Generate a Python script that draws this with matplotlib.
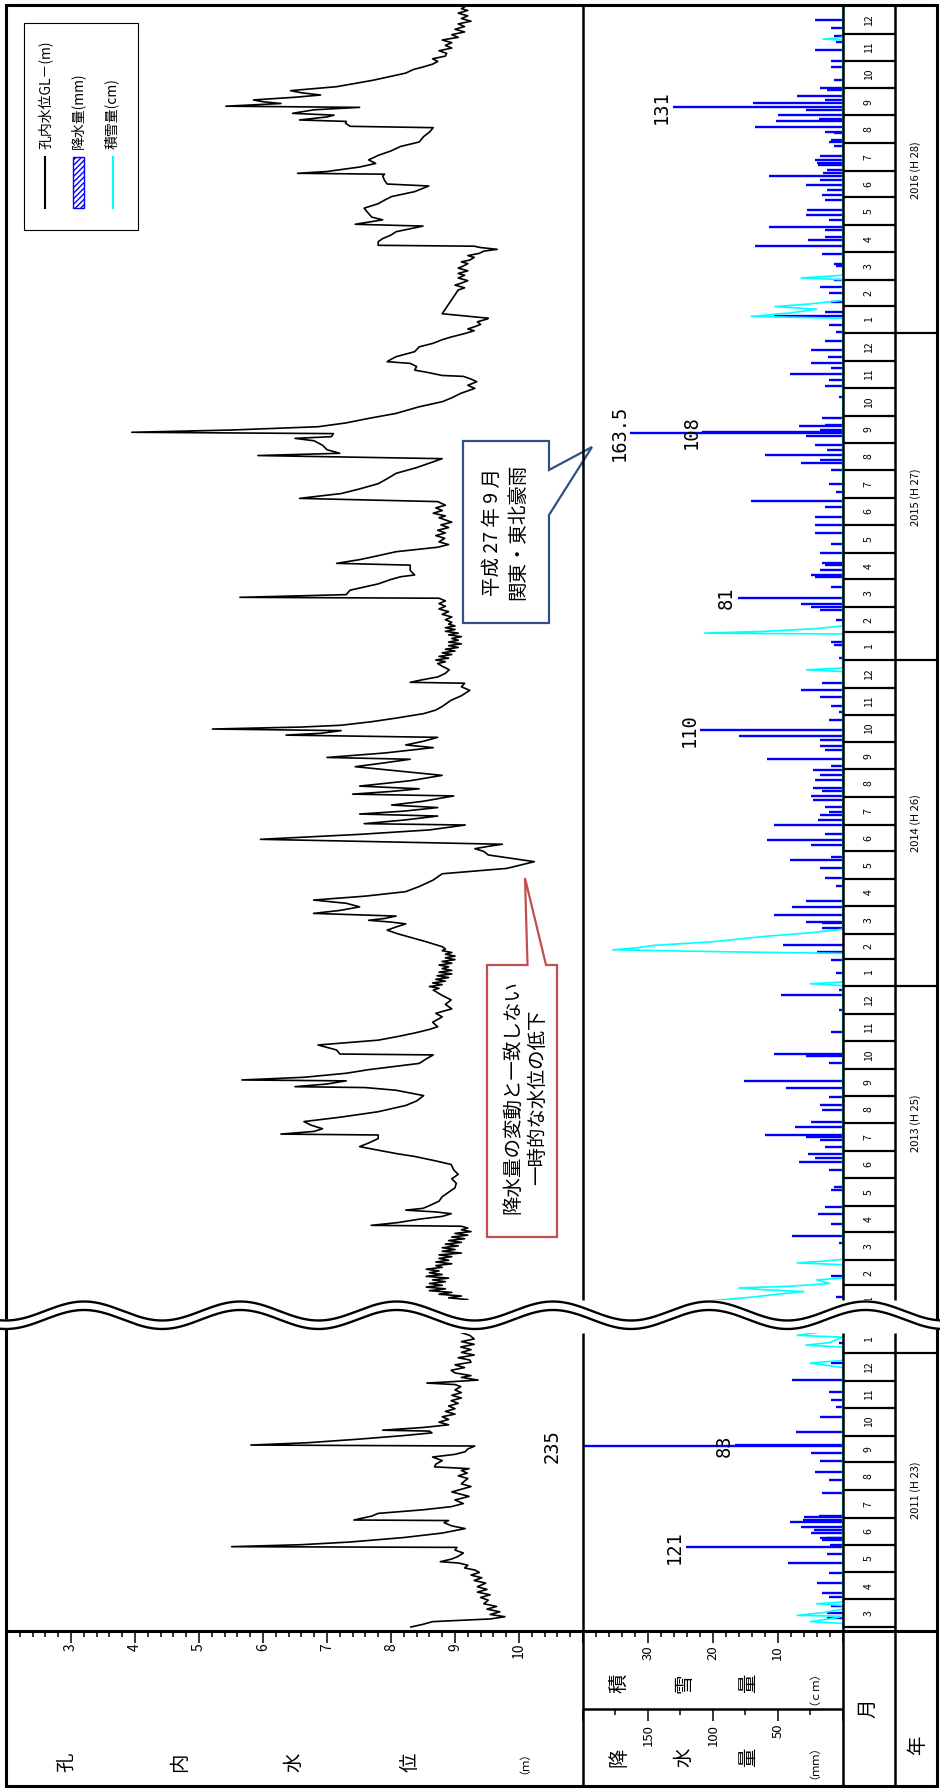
import numpy as np
import pandas as pd
import matplotlib
matplotlib.use("Agg")
import matplotlib.pyplot as plt
import matplotlib.dates as mdates
from matplotlib.patches import Polygon, Rectangle
from matplotlib.ticker import MultipleLocator

plt.rcParams['font.family'] = ['Noto Sans CJK JP', 'DejaVu Sans']
plt.rcParams['hatch.linewidth'] = 1.0

# ---- groundwater level GL-(m); days counted from the segment start ----
# 2013-01-01 .. 2016-12-31
wl_a_day = [13, 15, 17, 19, 21, 23, 25, 27, 29, 31, 33, 35, 37, 39, 41, 43, 45, 47, 49, 51, 53, 55,
            57, 59, 61, 63, 65, 67, 69, 71, 73, 75, 77, 79, 81, 83, 85, 87, 89, 91, 93, 95, 97,
            98, 101, 105, 108, 111, 113, 115, 117, 120, 125, 130, 135, 140, 145, 150, 155, 160,
            166, 170, 175, 178, 182, 186, 190, 195, 199, 200, 203, 206, 210, 214, 219, 225, 232,
            237, 243, 249, 252, 253, 256, 258.6, 259.5, 260.5, 263.5, 268, 272, 279, 284, 288.5,
            289.5, 294, 299.6, 305, 309, 313, 317, 320, 325, 331, 335, 340, 345, 350, 355, 361,
            363, 365, 367, 369, 371, 373, 375, 377, 379, 381, 383, 385, 387, 389, 391, 393, 395,
            397, 399, 401, 403, 405, 407, 409.5, 415, 420, 424, 428, 432, 435, 437, 439, 441,
            443.7, 446.7, 450, 454, 458, 461.6, 466, 471, 477, 484, 491, 497, 504.5, 508, 512,
            516, 519, 522, 524, 529.5, 535, 540, 545.5, 547, 551, 555.5, 557.8, 561, 565, 567.8,
            572, 578, 580, 583, 586, 589, 595, 601, 610.7, 615, 619, 621, 626, 632, 635, 639,
            643.5, 646, 648, 651, 652.8, 655, 657, 661, 665, 670, 674, 678, 685, 690, 696, 700,
            704, 705, 708, 711, 715, 719, 723, 726, 728, 730, 732, 734, 736, 738, 740, 742, 744,
            746, 748, 750, 752, 754, 756, 758, 760, 762, 764, 766, 768, 770, 772, 775, 778, 781,
            784, 787, 790, 793, 796, 799, 800, 803, 808, 815, 820, 823, 825, 830, 836, 838, 842,
            845, 851, 856, 859, 862, 866, 869, 872, 875, 878, 881, 884, 886, 889, 891, 894, 897,
            900, 903, 907, 910.6, 916, 921, 927, 933, 938.6, 945, 950, 955, 958.5, 961, 965, 970,
            975, 977.7, 979.6, 983, 984.5, 987, 990.7, 995, 1000, 1005.6, 1013, 1018.7, 1023,
            1028, 1033.6, 1037, 1041, 1044, 1047, 1048, 1051, 1054, 1058, 1061.5, 1063.4, 1066,
            1069, 1074.6, 1080, 1084, 1088, 1091, 1095, 1098, 1100, 1102.6, 1105, 1108, 1111,
            1112, 1117, 1143.5, 1146, 1149, 1151, 1154, 1157, 1160, 1162, 1165, 1168, 1170, 1173,
            1175, 1177, 1180, 1182, 1184.5, 1187, 1189, 1191, 1192.5, 1193.5, 1197.6, 1201, 1205,
            1208.7, 1212, 1215, 1217, 1222, 1225, 1229, 1235, 1240, 1244, 1248, 1253.5, 1259.8,
            1262, 1266, 1271, 1273, 1274, 1276, 1281, 1285, 1289, 1294, 1299, 1304, 1309, 1315,
            1320, 1325, 1326.5, 1330, 1332, 1333.6, 1337, 1339, 1341, 1345, 1347.7, 1349, 1352,
            1354, 1356, 1359, 1361.5, 1364, 1366.4, 1370.8, 1378, 1386, 1390, 1393, 1396, 1399,
            1402, 1405, 1408, 1411, 1414, 1417, 1420, 1423, 1426, 1429, 1432, 1435, 1438, 1441,
            1444, 1447, 1450, 1453, 1456, 1458, 1460]
wl_a_m = [9.05, 9.20, 8.90, 9.10, 8.75, 8.95, 8.60, 8.85, 8.55, 8.80, 8.60, 8.85, 8.65, 8.90, 8.55,
          8.80, 8.60, 8.75, 8.55, 8.80, 8.70, 8.95,
          8.70, 8.90, 8.75, 8.95, 8.75, 9.10, 8.80, 9.00, 8.80, 9.05, 8.85, 9.10, 8.90, 9.15, 8.95,
          9.20, 9.00, 9.25, 9.10, 9.20, 9.10,
          7.69, 8.10, 8.45, 8.80, 8.94, 8.70, 8.23, 8.50, 8.60, 8.75, 8.80, 8.90, 9.00, 9.02, 8.95,
          9.05, 8.98,
          8.94, 8.70, 8.37, 8.10, 7.80, 7.51, 7.65, 7.80, 7.80, 6.28, 6.80, 6.93, 6.75, 6.64, 7.22,
          7.80, 8.23,
          8.40, 8.51, 8.08, 7.60, 6.50, 7.00, 7.22, 7.30, 5.67, 6.64, 7.30, 7.65, 8.44, 8.55, 8.66,
          7.20, 7.15, 6.86, 7.80, 8.10, 8.37, 8.60, 8.73, 8.65, 8.80, 8.70, 8.95, 8.85, 8.94, 8.80,
          8.66,
          8.75, 8.60, 8.80, 8.65, 8.85, 8.70, 8.90, 8.72, 8.95, 8.75, 8.95, 8.80, 8.90, 8.75, 8.95,
          8.80, 9.00,
          8.85, 9.00, 8.85, 8.95, 8.80, 8.85, 8.80, 8.55, 8.30, 8.10, 7.94, 8.10, 8.23, 8.00, 7.65,
          7.90,
          8.08, 6.79, 7.20, 7.51, 7.30, 6.79, 7.60, 8.23, 8.45, 8.66, 8.80, 9.81, 10.24, 9.90, 9.52,
          9.45, 9.31, 9.55, 9.74, 5.96, 7.50, 8.60, 9.16, 7.58, 8.20, 8.73, 7.51, 8.20, 8.73, 8.01,
          8.50, 8.98, 7.40, 8.00, 8.44, 7.51, 8.30, 8.80, 7.44, 7.90, 8.30, 7.00, 7.90, 8.66, 8.23,
          8.50,
          8.73, 6.36, 6.90, 7.22, 5.21, 6.60, 7.22, 7.70, 8.08, 8.51, 8.70, 8.80, 8.94, 9.10, 9.23,
          9.10,
          9.15, 8.30, 8.50, 8.73, 8.85, 8.91, 8.80, 8.73, 8.85, 8.70, 8.90, 8.75, 8.95, 8.80, 9.00,
          8.85, 9.05,
          8.90, 9.10, 8.90, 9.05, 8.95, 9.10, 8.90, 9.05, 8.85, 9.00, 8.85, 9.00, 8.90, 8.95, 8.85,
          8.95, 8.80,
          8.90, 8.75, 8.85, 8.75, 8.85, 8.75, 5.64, 7.30, 7.36, 7.80, 8.00, 8.15, 8.37, 8.30, 8.30,
          7.15, 7.50,
          7.70, 8.08, 8.73, 8.90, 8.75, 8.84, 8.70, 8.85, 8.73, 8.90, 8.78, 8.95, 8.87, 8.75, 8.85,
          8.66, 8.80,
          8.70, 8.85, 8.73, 6.57, 7.22, 7.50, 7.80, 7.95, 8.08, 8.40, 8.60, 8.80, 5.92, 7.20, 7.00,
          6.93,
          6.80, 6.50, 7.07, 7.10, 3.95, 5.50, 6.86, 7.30, 7.65, 8.08, 8.44, 8.80, 8.95,
          9.09, 9.31, 9.20, 9.34, 9.25, 9.13, 8.80, 8.60, 8.37, 8.40, 8.30, 7.94, 8.00,
          8.08, 8.37, 8.44, 8.66, 8.80, 8.94, 9.16, 9.30, 9.20, 9.31, 9.40, 9.35, 9.50,
          9.52, 8.80, 9.05, 9.15, 9.00, 9.09, 9.20, 9.05, 9.15, 9.05, 9.20, 9.05, 9.12, 9.20,
          9.10, 9.23, 9.30, 9.20, 9.38, 9.45, 9.66, 9.40, 9.30, 7.80, 7.80, 7.87, 8.00,
          8.08, 8.30, 8.50, 7.44, 7.87, 7.70, 7.65, 7.58, 7.80, 7.90, 8.01, 8.37, 8.59,
          7.94, 7.90, 7.87, 7.90, 6.54, 7.00, 7.51, 7.76, 7.65, 7.80, 8.00, 8.15, 8.44, 8.51,
          8.60, 8.66, 7.36, 7.29, 7.30, 6.57, 7.00, 7.11, 6.46, 6.80, 7.51, 5.42, 6.28,
          6.00, 5.85, 6.50, 6.90, 6.60, 6.43, 7.15, 7.72, 8.23, 8.35, 8.51, 8.65, 8.73,
          8.65, 8.85, 8.87, 8.75, 8.95, 8.85, 8.95, 8.80, 9.05, 8.95, 9.15, 9.00, 9.15, 9.05,
          9.25, 9.10, 9.20, 9.05, 9.20, 9.10, 9.15]

# 2011-03-01 .. 2012-01
wl_b_day = [0, 3, 6, 9, 11.5, 14, 17, 20, 23, 26, 30, 33, 36, 39, 42, 45, 49, 52, 55, 58, 61, 63.7,
            66, 69, 71.5, 73, 76, 79, 82.7, 86, 89, 89.8, 92, 95, 100, 105, 110, 113, 116.6, 119,
            119.6, 124, 127, 131, 134.5, 138, 142, 146, 151, 154, 157, 160, 162, 166, 169, 172,
            175, 177, 179, 182, 186, 190, 193, 196, 199, 202.3, 203.4, 206, 210, 214, 217, 219,
            220, 223, 226, 229, 232, 235, 238, 241, 244, 247, 250, 253, 256, 259, 262, 265,
            268.7, 271, 272.7, 274, 276, 279, 281, 284, 287, 290, 293, 296, 298.5, 301, 304, 307,
            310, 313, 316, 319, 322, 326, 329, 332, 335]
wl_b_m = [8.31, 8.50, 8.65, 9.55, 9.78, 9.55, 9.70, 9.50, 9.65, 9.45, 9.52, 9.40, 9.55, 9.35, 9.50,
          9.35, 9.48, 9.30, 9.42, 9.25, 9.38, 9.31,
          9.15, 9.20, 9.06, 8.77, 8.95, 9.05, 9.13, 9.00, 9.03, 5.51, 6.60, 7.36, 8.20, 8.80, 9.16,
          8.95, 8.83, 8.90,
          7.42, 7.70, 7.80, 8.50, 8.94, 9.13, 9.00, 9.22, 8.95, 9.10, 9.25, 9.10, 9.13, 9.20, 9.05,
          9.19,
          9.10, 9.22, 8.68, 8.70, 8.80, 8.65, 9.00, 9.16, 9.20, 9.31, 5.81, 6.70, 7.50, 8.20, 8.64,
          8.60,
          7.87, 8.50, 8.90, 8.75, 8.90, 8.80, 9.00, 8.85, 9.00, 8.90, 9.05, 8.94, 9.10, 8.95, 9.10,
          9.00,
          9.09, 9.00, 8.56, 8.90, 9.36, 9.10, 9.25, 9.00, 8.94, 9.15, 9.00, 9.25, 9.23, 9.05, 9.30,
          9.10,
          9.25, 9.09, 9.30, 9.10, 9.30, 9.23, 9.10, 9.30, 9.15]

# ---- daily precipitation (mm) ----
rain_a_day = [18, 41, 78, 86, 100, 111, 119, 137, 141, 160, 169, 173, 178, 186, 193, 197, 199, 208,
              214, 227, 232, 242, 251, 259, 279, 287, 289, 314, 339, 356,
              361, 380, 395, 404, 411, 430, 436, 437, 445, 454, 460, 477, 486, 497, 506, 510, 523,
              529, 536, 545, 551, 557, 560, 566, 573, 578, 583, 587, 596, 601, 607, 611, 619, 629,
              634, 641, 645, 652, 663, 672, 678, 689, 696, 704,
              732, 747, 750, 775, 786, 789, 793, 799, 812, 823, 825, 830, 836, 838, 849, 860, 872,
              881, 890, 901, 908, 918, 927, 942, 950, 953, 959, 965, 970, 980, 984, 985, 987, 991,
              993, 1000, 1024, 1036, 1043, 1050, 1056, 1062, 1069, 1076, 1086,
              1097, 1104, 1114, 1119, 1130, 1140, 1147, 1155, 1170, 1173, 1184, 1193, 1199, 1203,
              1211, 1214, 1222, 1227, 1233, 1244, 1250, 1255, 1261, 1266, 1271, 1274, 1278, 1283,
              1285, 1289, 1293, 1304, 1309, 1311, 1319, 1320, 1326, 1332, 1335, 1339, 1345, 1348,
              1353, 1356, 1360, 1367, 1369, 1378, 1393, 1399, 1412, 1421, 1427, 1436, 1445]
rain_a_mm = [5, 8.8, 3, 38.9, 8.8, 19.3, 14, 8.8, 7, 10.6, 33.6, 21, 26.5, 14, 17.6, 28, 60, 37,
             24.7, 15.8, 17.6, 10.6, 44, 76, 10.6, 28, 53, 8.8, 3, 47.7,
             3, 5, 8.8, 20, 46, 15.8, 15.8, 28.3, 53, 38.9, 28, 5, 14, 17.6, 40.6, 8.8, 24.7,
             58, 14, 53, 19, 17.6, 10.6, 14, 23, 24.7, 15.8, 23, 21, 17.6, 23, 8.8, 58, 14,
             17.6, 17.6, 79.6, 110, 10.6, 3, 8.8, 17.6, 31.8, 15.8,
             3, 7, 8.8, 5, 17.6, 24.7, 32, 81, 8.8, 21, 24.7, 17.6, 14, 15.8, 17.6, 8.8, 21,
             21, 21, 14, 70.7, 5, 10.6, 8.8, 32, 17.6, 60, 12, 21, 28, 163.5, 108, 17.6, 33.6,
             14, 15.8, 3, 14, 10.6, 40.6, 8.8, 24.7, 11, 24.7, 14,
             5, 10.6, 53, 14, 8.8, 10.6, 17.6, 7, 5, 7, 15.8, 67.2, 26.5, 14,
             14, 56.6, 10.6, 28.3, 27.7, 14, 15.8, 12, 28.3, 17.6, 56.6, 15, 12, 19.3,
             20, 21, 17.6, 7, 10.6, 8.8, 7, 14, 67.2, 51, 18, 49.5, 28, 131,
             69, 14, 35.3, 12, 17.6, 7, 8.8, 8.8, 21, 5, 7, 8.8, 21]

rain_b_day = [10, 16, 23, 34, 38, 49, 60, 71, 82, 89, 92, 97, 99, 100, 105, 108, 112, 117, 120, 123,
              124, 150, 164, 173, 185, 194, 202, 203, 218, 235, 246, 254, 263, 276, 295, 317]
rain_b_mm = [12, 12, 8.8, 10.6, 15.8, 20, 10.6, 42, 12, 121, 10, 16, 17.6, 12, 24.7, 22, 32, 40.5,
             30.5, 30, 18, 16, 10.6, 21, 17.5, 24.7, 235, 83, 36, 17.6, 5, 8.8, 10.6, 39, 8.8, 3]

# ---- snow depth (cm) ----
snow_a_day = [0, 13, 14, 17, 21, 24, 26, 28, 30, 33, 37, 39, 54, 56, 58, 60,
              366, 368, 370, 402, 404, 406, 408, 411, 415, 421, 425, 429,
              717, 719, 721, 759, 760, 762, 765, 768,
              1112, 1114, 1118, 1122, 1125, 1128, 1132, 1155, 1157, 1160, 1423, 1424, 1426, 1461]
snow_a_cm = [0, 0, 20, 15, 10, 6, 12, 16, 8, 2, 4, 0, 0, 7, 3, 0,
             0, 5, 0, 0, 20, 35.4, 32, 29, 20, 12, 5, 0,
             0, 5.6, 0, 0, 21.3, 12, 4, 0,
             0, 14.1, 8, 4, 10.4, 5, 0, 0, 6.4, 0, 0, 3, 0, 0]

snow_b_day = [0, 4, 6, 9, 12, 13, 16, 20, 24, 26, 28, 290, 295, 298, 313, 315, 318, 324, 326, 329, 335]
snow_b_cm = [0, 0, 5, 2, 0, 7, 3, 0, 0, 4, 0, 0, 5, 0, 0, 5.7, 2, 0, 7, 4, 0]

# year captions and the span each one is centred on
year_names = {2011: "2011 (H 23)", 2013: "2013 (H 25)", 2014: "2014 (H 26)",
              2015: "2015 (H 27)", 2016: "2016 (H 28)"}
year_span = {2011: ("2011-03-01", "2012-01-01"), 2013: ("2013-03-01", "2014-01-01"),
             2014: ("2014-01-01", "2015-01-01"), 2015: ("2015-01-01", "2016-01-01"),
             2016: ("2016-01-01", "2017-01-01")}

W, H = 940, 1789
PPD = 0.8946  # pixels per day on the time axis
X_L, X_WL, X_BASE, X_MON, X_R = 7, 583, 842.7, 895, 937
Y_TOP, Y_HDR, Y_MID, Y_BOT = 5, 1631, 1709, 1786

fig = plt.figure(figsize=(W / 100, H / 100), dpi=100)


def px_axes(x0, y0, x1, y1):
    ax = fig.add_axes([x0 / W, 1 - y1 / H, (x1 - x0) / W, (y1 - y0) / H])
    ax.patch.set_alpha(0)
    return ax


def bare(ax):
    for s in ax.spines.values():
        s.set_visible(False)
    ax.set_xticks([])
    ax.set_yticks([])


segments = [
    dict(top=Y_TOP, bot=1300, start="2013-01-01", anchor="2017-01-01", anchor_px=6,
         wl=(wl_a_day, wl_a_m), rain=(rain_a_day, rain_a_mm), snow=(snow_a_day, snow_a_cm)),
    dict(top=1333, bot=1630, start="2011-03-01", anchor="2011-03-01", anchor_px=1627,
         wl=(wl_b_day, wl_b_m), rain=(rain_b_day, rain_b_mm), snow=(snow_b_day, snow_b_cm)),
]

rain_axes = []
for seg in segments:
    t0 = mdates.date2num(np.datetime64(seg["start"]))
    ta = mdates.date2num(np.datetime64(seg["anchor"]))
    ylim = (ta - (seg["bot"] - seg["anchor_px"]) / PPD, ta + (seg["anchor_px"] - seg["top"]) / PPD)

    axw = px_axes(X_L, seg["top"], X_WL, seg["bot"])
    axw.set_xlim(2, 11)
    axw.set_ylim(*ylim)
    bare(axw)
    d, v = seg["wl"]
    axw.plot(v, t0 + np.asarray(d), color="black", lw=1.2)

    axr = px_axes(X_WL, seg["top"], X_BASE, seg["bot"])
    axr.set_xlim(200, 0)
    axr.set_ylim(*ylim)
    bare(axr)
    d, v = seg["rain"]
    axr.hlines(t0 + np.asarray(d), 0, v, color="#0000FF", lw=1.7)
    rain_axes.append((axr, t0))

    axs = px_axes(X_WL, seg["top"], X_BASE, seg["bot"])
    axs.set_xlim(40, 0)
    axs.set_ylim(*ylim)
    bare(axs)
    d, v = seg["snow"]
    axs.plot(v, t0 + np.asarray(d), color="#00FFFF", lw=1.2)

    # month / year columns
    axc = px_axes(X_BASE, seg["top"], X_R, seg["bot"])
    axc.set_xlim(0, 1)
    axc.set_ylim(*ylim)
    bare(axc)
    mw = (X_MON - X_BASE) / (X_R - X_BASE)
    months = pd.date_range("2011-01-01", "2017-01-01", freq="MS")
    lo, hi = ylim
    for m0, m1 in zip(months[:-1], months[1:]):
        a, b = mdates.date2num(m0), mdates.date2num(m1)
        if b < lo or a > hi:
            continue
        if lo <= a <= hi:
            axc.hlines(a, 0, 1 if m0.month == 1 else mw, color="black", lw=1.6)
        axc.text(mw / 2, (a + b) / 2, str(m0.month), rotation=90, ha="center", va="center",
                 fontsize=7.5, clip_on=True)
    for yr, name in year_names.items():
        a, b = (mdates.date2num(pd.Timestamp(s)) for s in year_span[yr])
        if lo <= (a + b) / 2 <= hi:
            axc.text((1 + mw) / 2, (a + b) / 2, name, rotation=90, ha="center", va="center",
                     fontsize=8)

# values written beside the largest daily totals
label_font = dict(family="DejaVu Sans Mono", fontsize=13.5, rotation=90, ha="center",
                  va="center")
axr_a, t0_a = rain_axes[0]
for day, mm, txt in [(1348, 131, "131"), (984, 163.5, "163.5"), (985, 108, "108"),
                     (799, 81, "81"), (652, 110, "110")]:
    axr_a.text(mm + 8.5, t0_a + day, txt, **label_font)
axr_b, t0_b = rain_axes[1]
for day, mm, txt in [(89, 121, "121"), (203, 83, "83")]:
    axr_b.text(mm + 8.5, t0_b + day, txt, **label_font)
axr_b.text(224, t0_b + 202, "235", clip_on=False, **label_font)

# ---- header scales ----
def header_axis(x0, y0, x1, y1, lim, major, minor):
    ax = px_axes(x0, y0, x1, y1)
    ax.set_xlim(*lim)
    ax.set_ylim(0, 1)
    for s in ax.spines.values():
        s.set_visible(False)
    ax.set_yticks([])
    ax.xaxis.set_ticks_position("top")
    ax.xaxis.set_major_locator(MultipleLocator(major))
    ax.xaxis.set_minor_locator(MultipleLocator(minor))
    ax.tick_params(axis="x", which="major", direction="in", length=8.5, width=1.1,
                   labeltop=False, labelbottom=False)
    ax.tick_params(axis="x", which="minor", direction="in", length=4.3, width=1.1)
    return ax


hw = header_axis(X_L, Y_HDR, X_WL, Y_BOT, (2, 11), 1, 0.2)
for v in range(3, 11):
    hw.text(v, (Y_BOT - 1643) / (Y_BOT - Y_HDR), str(v), rotation=90, ha="center", va="top",
            fontsize=10)
hs = header_axis(X_WL, Y_HDR, X_BASE, Y_MID, (40, 0), 10, 2)
for v in (10, 20, 30):
    hs.text(v, (Y_MID - 1645) / (Y_MID - Y_HDR), str(v), rotation=90, ha="center", va="top",
            fontsize=9.5)
hr = header_axis(X_WL, Y_MID, X_BASE, Y_BOT, (200, 0), 50, 25)
for v in (50, 100, 150):
    hr.text(v, (Y_BOT - 1724) / (Y_BOT - Y_MID), str(v), rotation=90, ha="center", va="top",
            fontsize=9.5)

# ---- overlay in pixel coordinates: frame, break mark, notes, legend ----
ov = fig.add_axes([0, 0, 1, 1], zorder=10)
ov.set_xlim(0, W)
ov.set_ylim(H, 0)
ov.axis("off")

K = dict(color="black", solid_capstyle="butt")
ov.add_patch(Rectangle((6, Y_TOP), X_R - 6, Y_BOT - Y_TOP, fill=False, ec="black", lw=2.2))
ov.plot([6, X_R], [Y_HDR, Y_HDR], lw=2.2, **K)
ov.plot([X_WL, X_BASE], [Y_MID, Y_MID], lw=1.8, **K)
for x in (X_WL, X_BASE, X_MON):
    ov.plot([x, x], [Y_HDR, Y_BOT], lw=1.8, **K)
    ov.plot([x, x], [Y_TOP, 1300], lw=1.8, **K)
    ov.plot([x, x], [1333, Y_HDR], lw=1.8, **K)

# wavy break between 2012 and 2013
xs = np.linspace(0, W, 800)
up = 1311 - 9.5 * np.cos(2 * np.pi * (xs - 84) / 156.3)
ov.fill_between(xs, up - 1, up + 9.5, color="white", lw=0)
ov.plot(xs, up, color="black", lw=1.7)
ov.plot(xs, up + 8.5, color="black", lw=1.7)

# header captions
cjk = dict(rotation=90, ha="center", va="center", fontsize=14)
for x, s in [(67, "孔"), (180, "内"), (294, "水"), (410, "位")]:
    ov.text(x, 1762, s, **cjk)
ov.text(519, 1757, "（ｍ）", rotation=90, ha="center", va="center", fontsize=8)
for x, s in [(619, "積"), (684, "雪"), (749, "量")]:
    ov.text(x, 1683, s, **cjk)
ov.text(809, 1683, "（ｃｍ）", rotation=90, ha="center", va="center", fontsize=8)
for x, s in [(619, "降"), (684, "水"), (749, "量")]:
    ov.text(x, 1757, s, **cjk)
ov.text(809, 1757, "（ｍｍ）", rotation=90, ha="center", va="center", fontsize=8)
ov.text(868, 1708, "月", **cjk)
ov.text(918, 1745, "年", **cjk)

# note boxes
ov.add_patch(Polygon([(463, 441), (549, 441), (549, 470), (592, 447), (549, 515), (549, 623),
                      (463, 623)], closed=True, fc="white", ec="#2E5283", lw=1.6))
ov.text(505, 532, "平成 27 年 9 月\n関東・東北豪雨", rotation=90, ha="center", va="center",
        fontsize=14, multialignment="center", linespacing=1.25)
ov.add_patch(Polygon([(487, 965), (527.5, 965), (525, 878), (546, 965), (557, 965), (557, 1237),
                      (487, 1237)], closed=True, fc="white", ec="#C0504D", lw=1.6))
ov.text(525, 1097, "降水量の変動と一致しない\n一時的な水位の低下", rotation=90, ha="center",
        va="center", fontsize=14, multialignment="center", linespacing=1.25)

# legend
ov.add_patch(Rectangle((24, 23), 114, 207, fc="white", ec="black", lw=0.8))
ov.plot([45, 45], [157, 208], color="black", lw=1.5)
ov.add_patch(Rectangle((73, 157), 11, 51, fc="white", ec="#0000FF", hatch="//////", lw=1))
ov.plot([113, 113], [157, 208], color="#00FFFF", lw=1.5)
for x, s in [(45, "孔内水位GL－(m)"), (78, "降水量(mm)"), (111, "積雪量(cm)")]:
    ov.text(x, 149, s, rotation=90, ha="center", va="bottom", fontsize=10)

fig.savefig("out.png", dpi=100, facecolor="white")
